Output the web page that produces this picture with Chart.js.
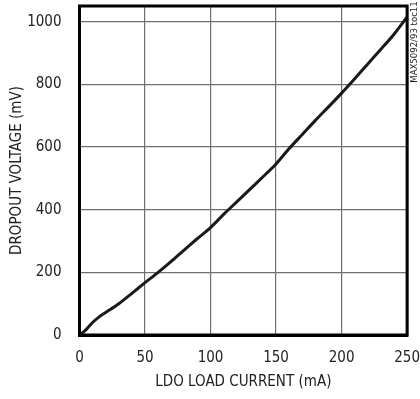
<!DOCTYPE html>
<html>
<head>
<meta charset="utf-8">
<script src="https://cdn.jsdelivr.net/npm/chart.js@4.4.0/dist/chart.umd.min.js"></script>
<style>
  html, body { margin: 0; padding: 0; background: #fff; }
  #wrap { width: 420px; height: 399px; }
</style>
</head>
<body>
<div id="wrap"><canvas id="dropChart" width="420" height="399"></canvas></div>
<script>
// LDO load current (mA) vs dropout voltage (mV)
const loadCurrent = [0, 2, 5, 10, 15, 20, 30, 40, 50, 60, 70, 80, 90, 100, 110, 120, 130, 140, 150, 160, 170, 180, 190, 200, 210, 220, 230, 240, 250];
const dropoutMv = [0, 6, 17, 40, 58, 72, 100, 133, 167, 200, 235, 272, 308, 343, 385, 425, 465, 505, 546, 595, 640, 685, 728, 772, 818, 865, 912, 960, 1015];
const xTicks = [0, 50, 100, 150, 200, 250];
const yTicks = [0, 200, 400, 600, 800, 1000];

const FONT = "'Liberation Sans Narrow', 'Arial Narrow', 'DejaVu Sans Condensed', sans-serif";

//frame + side note
const framePlugin = {
  id: "frame",
  afterDraw(chart) {
    const { ctx, chartArea: a } = chart;
    ctx.save();
    ctx.strokeStyle = "#000";
    ctx.lineWidth = 3;
    ctx.strokeRect(a.left, a.top, a.right - a.left, a.bottom - a.top);
    ctx.translate(414.5, 42);
    ctx.rotate(-Math.PI / 2);
    ctx.fillStyle = "#222";
    ctx.font = "9.5px " + FONT;
    ctx.textAlign = "center";
    ctx.textBaseline = "middle";
    ctx.fillText("MAX5092/93 toc11", 0, 0);
    ctx.restore();
  },
};

const pts = loadCurrent.map((x, i) => ({ x: x, y: dropoutMv[i] }));

new Chart(document.getElementById("dropChart"), {
  type: "line",
  data: {
    datasets: [
      {
        data: pts,
        borderColor: "#1a1a1a",
        borderWidth: 3,
        pointRadius: 0,
        fill: false,
        tension: 0.3,
      },
    ],
  },
  options: {
    responsive: false,
    devicePixelRatio: 1,
    animation: false,
    layout: { padding: 0 },
    plugins: { legend: { display: false }, tooltip: { enabled: false } },
    scales: {
      x: {
        type: "linear",
        min: 0,
        max: 250,
        afterBuildTicks: (s) => { s.ticks = xTicks.map((v) => ({ value: v })); },
        afterFit: (s) => { s.height = 64; },
        grid: { color: "#707070", lineWidth: 1.2, drawTicks: true, tickLength: 17, tickColor: "rgba(0,0,0,0)" },
        border: { color: "#000", width: 3 },
        ticks: {
          color: "#222",
          padding: 0,
          font: { family: FONT, size: 15, lineHeight: 0.8 },
          callback: (v) => String(v),
        },
        title: {
          display: true,
          text: "LDO LOAD CURRENT (mA)",
          color: "#222",
          padding: { top: 0, bottom: 8 },
          font: { family: FONT, size: 15 },
        },
      },
      y: {
        type: "linear",
        min: 0,
        max: 1050,
        afterBuildTicks: (s) => { s.ticks = yTicks.map((v) => ({ value: v })); },
        afterFit: (s) => { s.width = 79.5; },
        grid: { color: "#707070", lineWidth: 1.2, drawTicks: true, tickLength: 18, tickColor: "rgba(0,0,0,0)" },
        border: { color: "#000", width: 3 },
        ticks: {
          color: "#222",
          padding: 0,
          font: { family: FONT, size: 15, lineHeight: 0.8 },
          callback: (v) => String(v),
        },
        title: {
          display: true,
          text: "DROPOUT VOLTAGE (mV)",
          color: "#222",
          padding: { top: 8, bottom: 0 },
          font: { family: FONT, size: 15 },
        },
      },
    },
  },
  plugins: [framePlugin],
});
</script>
</body>
</html>
